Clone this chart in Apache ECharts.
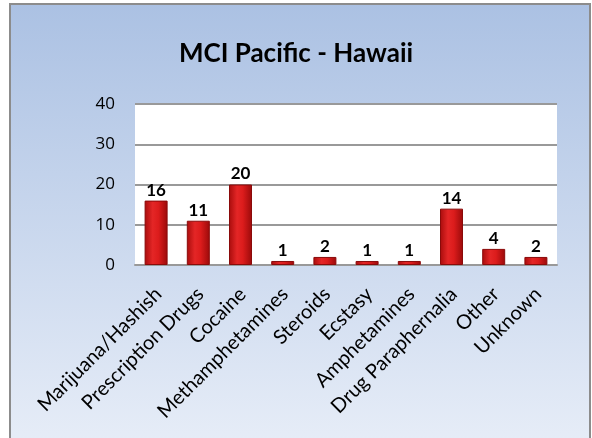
<!DOCTYPE html>
<html>
<head>
<meta charset="utf-8">
<script src="https://cdn.jsdelivr.net/npm/echarts@6/dist/echarts.min.js"></script>
<style>
html,body{margin:0;padding:0;background:#fff;}
#c{width:592px;height:438px;}
</style>
</head>
<body>
<div id="c"></div>
<script>
var title = 'MCI Pacific - Hawaii';
var categories = ['Marijuana/Hashish','Prescription Drugs','Cocaine','Methamphetamines','Steroids','Ecstasy','Amphetamines','Drug Paraphernalia','Other','Unknown'];
var values = [16, 11, 20, 1, 2, 1, 1, 14, 4, 2];
var yTicks = [0, 10, 20, 30, 40];

var chart = echarts.init(document.getElementById('c'));
var font = 'Lato, "Open Sans", sans-serif';
chart.setOption({
  backgroundColor: '#fff',
  animation: false,
  graphic: [{
    type: 'rect', z: -10, silent: true,
    shape: {x: 10, y: 4, width: 580, height: 450},
    style: {
      fill: new echarts.graphic.LinearGradient(0, 0, 0, 1, [
        {offset: 0, color: '#abc1e3'},
        {offset: 1, color: '#e8eef8'}
      ]),
      stroke: '#8c8c8c', lineWidth: 2
    }
  }],
  title: {
    text: title, left: 'center', top: 36,
    textStyle: {fontFamily: font, fontWeight: 'bold', fontSize: 26, color: '#000'}
  },
  grid: {left: 135, right: 35, top: 104, bottom: 173, show: true, backgroundColor: '#fff', borderWidth: 0},
  xAxis: {
    type: 'category', data: categories,
    axisLine: {show: true, lineStyle: {color: '#999', width: 2}},
    axisTick: {show: false},
    axisLabel: {rotate: 45, interval: 0, margin: 28, padding: [0, -3, 0, 0], fontFamily: font, fontSize: 20, color: '#000'}
  },
  yAxis: {
    type: 'value', min: yTicks[0], max: yTicks[yTicks.length - 1], interval: 10,
    axisLine: {show: false}, axisTick: {show: false},
    splitLine: {lineStyle: {color: '#999', width: 2}},
    axisLabel: {margin: 20, fontFamily: '"Open Sans", sans-serif', fontSize: 17, color: '#000'}
  },
  series: [{
    type: 'bar', data: values, barWidth: 23,
    itemStyle: {
      color: new echarts.graphic.LinearGradient(0, 0, 1, 0, [
        {offset: 0, color: '#a80c0c'},
        {offset: 0.35, color: '#e42626'},
        {offset: 0.6, color: '#dc1c1c'},
        {offset: 1, color: '#9a0a0a'}
      ]),
      borderColor: '#8a0a0a', borderWidth: 1
    },
    label: {show: true, position: 'top', distance: 2, fontFamily: font, fontWeight: 'bold', fontSize: 17, color: '#000'}
  }]
});
</script>
</body>
</html>
